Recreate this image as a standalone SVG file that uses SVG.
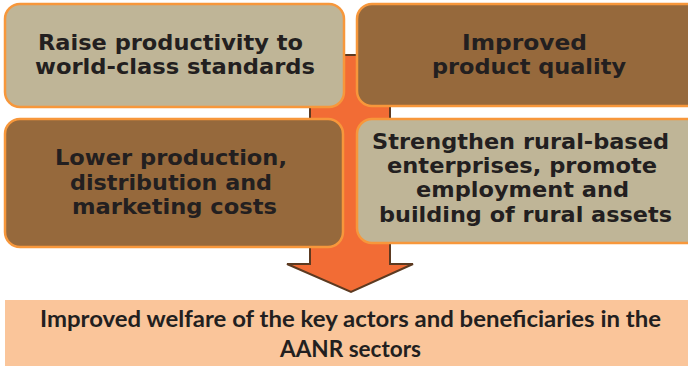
<svg xmlns="http://www.w3.org/2000/svg" width="688" height="366" viewBox="0 0 688 366">
<style>
.box{stroke:#F7973B;stroke-width:2.5}
.light{fill:#BFB597}
.dark{fill:#96693C}
.t{font-family:"DejaVu Sans","Verdana",sans-serif;font-weight:bold;font-size:22px;fill:#231F20}
.b{font-family:"Lato","Open Sans",sans-serif;font-weight:bold;font-size:23px;fill:#231F20}
</style>
<rect width="688" height="366" fill="#FFFFFF"/>
<g id="connectors">
<polygon points="310,55 390,55 390,264 413,264 351,292 287,264 310,264" fill="#F26C35" stroke="#5C3A21" stroke-width="2" stroke-linejoin="miter"/>
</g>
<g id="node1">
<rect class="box light" x="5" y="4" width="339" height="103" rx="15"/>
<text class="t" x="38" y="50" textLength="265" lengthAdjust="spacingAndGlyphs">Raise productivity to</text>
<text class="t" x="35" y="74" textLength="280" lengthAdjust="spacingAndGlyphs">world-class standards</text>
</g>
<g id="node2">
<rect class="box dark" x="357" y="4" width="345" height="102" rx="15"/>
<text class="t" x="462" y="50" textLength="125" lengthAdjust="spacingAndGlyphs">Improved</text>
<text class="t" x="432" y="74" textLength="194" lengthAdjust="spacingAndGlyphs">product quality</text>
</g>
<g id="node3">
<rect class="box dark" x="5" y="119" width="338" height="128" rx="15"/>
<text class="t" x="55" y="165" textLength="232" lengthAdjust="spacingAndGlyphs">Lower production,</text>
<text class="t" x="70" y="190" textLength="202" lengthAdjust="spacingAndGlyphs">distribution and</text>
<text class="t" x="72" y="214" textLength="205" lengthAdjust="spacingAndGlyphs">marketing costs</text>
</g>
<g id="node4">
<rect class="box light" x="357" y="119" width="345" height="124" rx="15"/>
<text class="t" x="372" y="149" textLength="297" lengthAdjust="spacingAndGlyphs">Strengthen rural-based</text>
<text class="t" x="387" y="173" textLength="270" lengthAdjust="spacingAndGlyphs">enterprises, promote</text>
<text class="t" x="416" y="197" textLength="213" lengthAdjust="spacingAndGlyphs">employment and</text>
<text class="t" x="379" y="222" textLength="293" lengthAdjust="spacingAndGlyphs">building of rural assets</text>
</g>
<g id="node5">
<rect x="5" y="300" width="690" height="70" fill="#FAC59A"/>
<text class="b" x="40" y="327" textLength="621" lengthAdjust="spacingAndGlyphs">Improved welfare of the key actors and beneficiaries in the</text>
<text class="b" x="280" y="357" textLength="141" lengthAdjust="spacingAndGlyphs">AANR sectors</text>
</g>
</svg>
